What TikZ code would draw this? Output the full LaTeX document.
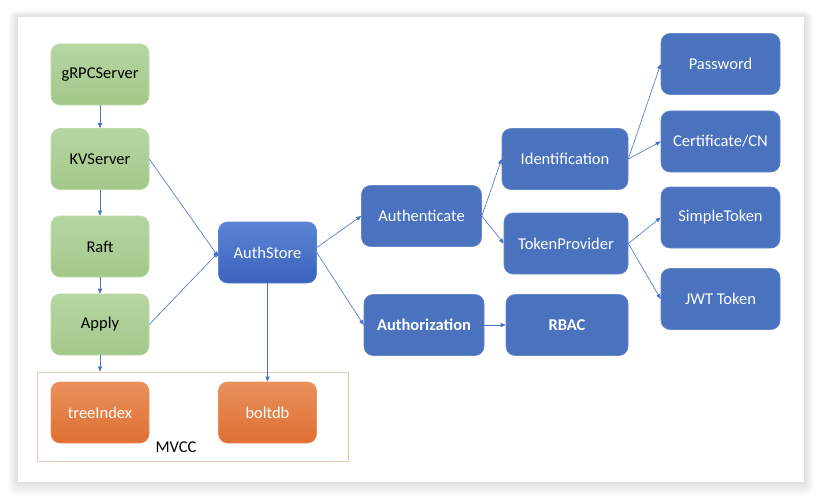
\documentclass[tikz,border=0pt]{standalone}
\usepackage{fontspec}
\setmainfont{Carlito}
\usetikzlibrary{arrows.meta}

\definecolor{linkblue}{HTML}{4472C4}
\definecolor{boxblue}{HTML}{4A72BF}
\definecolor{storetop}{HTML}{5C84D3}
\definecolor{storebot}{HTML}{3A62BE}
\definecolor{greentop}{HTML}{B6D6A2}
\definecolor{greenbot}{HTML}{A2C889}
\definecolor{greenline}{HTML}{BCD9AA}
\definecolor{orangetop}{HTML}{E9915E}
\definecolor{orangebot}{HTML}{DF6F31}
\definecolor{mvccline}{HTML}{E2CCB6}

\begin{document}
\begin{tikzpicture}[x=1pt,y=-1pt,
    box/.style={rounded corners=9pt, minimum width=98pt, minimum height=61pt,
      inner sep=0pt, font=\fontsize{16.5}{19}\selectfont},
    green box/.style={box, draw=greenline, line width=0.6pt,
      top color=greentop, bottom color=greenbot, text=black},
    orange box/.style={box, draw=orangetop, line width=0.6pt,
      top color=orangetop, bottom color=orangebot, text=white},
    blue box/.style={box, draw=boxblue!85!white, line width=0.6pt,
      fill=boxblue, text=white, minimum width=120pt},
    link/.style={draw=linkblue, line width=0.6pt,
      -{Triangle[length=5pt,width=4pt]}}]

    \useasboundingbox (0,0) rectangle (822,500);
    \fill[white] (0,0) rectangle (822,500);

    % soft shadow round the white card
    \foreach \s in {1,...,10}
    \fill[black, opacity=0.013, rounded corners=\s pt]
      (18-\s,17-0.7*\s) rectangle (804+\s,482+1.4*\s);
    \fill[white] (18,17) rectangle (804,482);

    % storage frame
    \node[draw=mvccline, line width=0.8pt, minimum width=311pt, minimum height=89pt,
      inner sep=0pt] (MVCC) at (192.5,416.5) {};
    \node[font=\fontsize{16.5}{19}\selectfont] (MVCC label) at (176,447) {MVCC};

    % server chain
    \node[green box] (gRPC Server) at (100,74.5)  {gRPCServer};
    \node[green box] (KV Server)   at (100,159)   {KVServer};
    \node[green box] (Raft)        at (100,246.5) {Raft};
    \node[green box] (Apply)       at (100,324.5) {Apply};

    \node[orange box] (tree Index) at (100,412.5)   {treeIndex};
    \node[orange box] (bolt db)    at (267.5,412.5) {boltdb};

    \node[box, draw=storetop, line width=0.6pt, top color=storetop,
      bottom color=storebot, text=white] (Auth Store) at (267.5,252.5) {AuthStore};

    % auth tree
    \node[blue box] (Authenticate)   at (421.5,216) {Authenticate};
    \node[blue box, font=\fontsize{16.5}{19}\selectfont\bfseries]
      (Authorization) at (424,325) {Authorization};
    \node[blue box, minimum width=126pt] (Identification) at (565,159)   {Identification};
    \node[blue box, minimum width=124pt] (Token Provider) at (566,243.5) {TokenProvider};
    \node[blue box, minimum width=122pt, font=\fontsize{16.5}{19}\selectfont\bfseries]
      (RBAC) at (567,325) {RBAC};

    \node[blue box, minimum width=119pt] (Password)     at (720.5,64)    {Password};
    \node[blue box, minimum width=119pt] (Certificate)  at (720.5,141.5) {Certificate/CN};
    \node[blue box, minimum width=119pt] (Simple Token) at (720.5,217.5) {SimpleToken};
    \node[blue box, minimum width=119pt] (JWT Token)    at (720.5,299)   {JWT Token};

    % connectors
    \draw[link] (gRPC Server) -- (KV Server);
    \draw[link] (KV Server) -- (Raft);
    \draw[link] (Raft) -- (Apply);
    \draw[link] (Apply) -- (Apply.south |- MVCC.north);
    \draw[link] (KV Server.east) -- ([yshift=-4pt]Auth Store.west);
    \draw[link] (Apply.east) -- (Auth Store.west);
    \draw[link] (Auth Store) -- (bolt db);
    \draw[link] ([yshift=5pt]Auth Store.east) -- (Authenticate.west);
    \draw[link] (Auth Store.east) -- (Authorization.west);
    \draw[link] (Authorization) -- (RBAC);
    \draw[link] (Authenticate.east) -- (Identification.west);
    \draw[link] (Authenticate.east) -- (Token Provider.west);
    \draw[link] (Identification.east) -- (Password.west);
    \draw[link] (Identification.east) -- (Certificate.west);
    \draw[link] (Token Provider.east) -- (Simple Token.west);
    \draw[link] (Token Provider.east) -- (JWT Token.west);
  \end{tikzpicture}
\end{document}
